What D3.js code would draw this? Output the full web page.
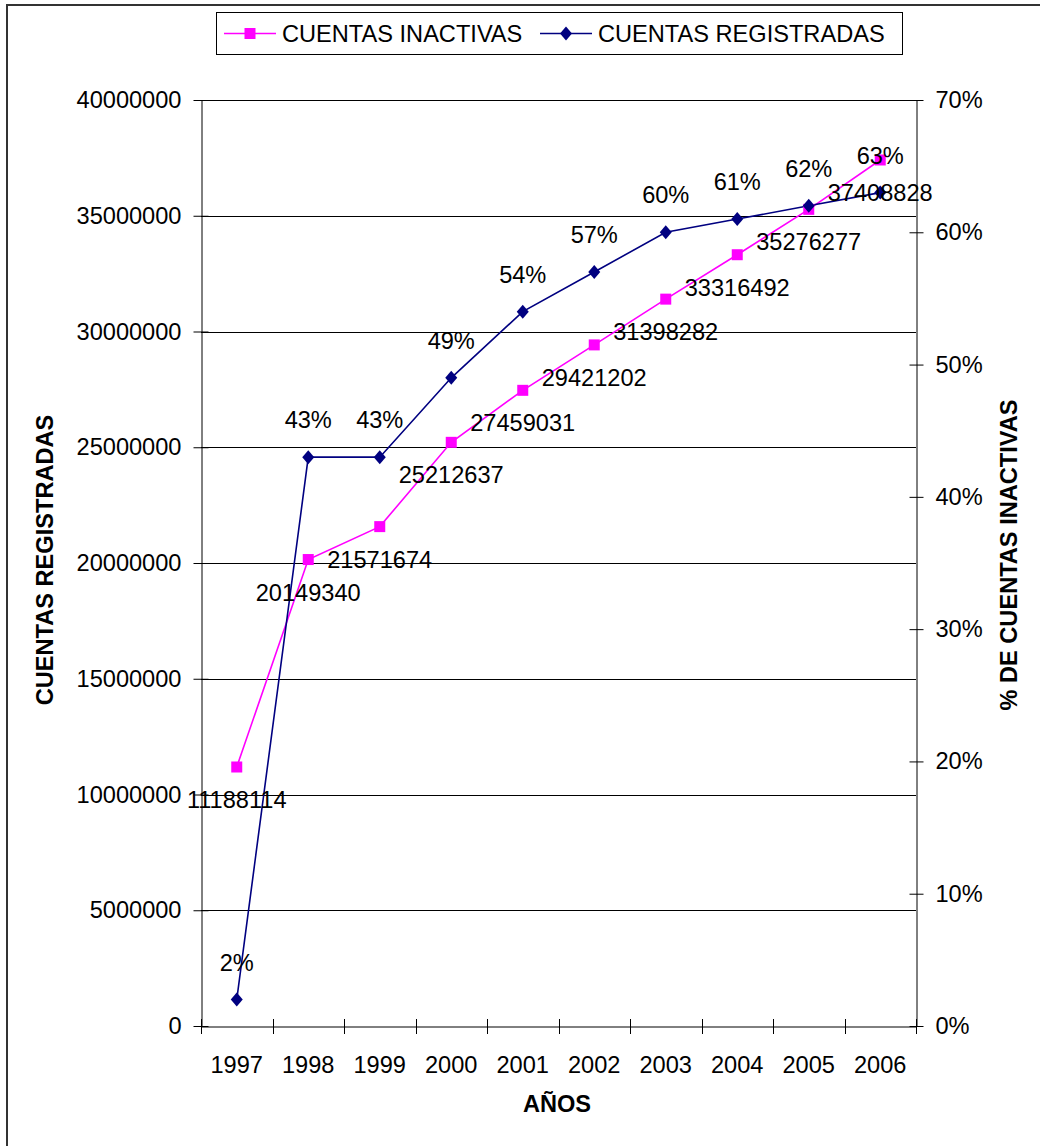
<!DOCTYPE html>
<html>
<head>
<meta charset="utf-8">
<script src="https://cdn.jsdelivr.net/npm/d3@7"></script>
<style>
  body { margin: 0; background: #ffffff; }
  text { font-family: "Liberation Sans", Arial, sans-serif; fill: #000000; }
</style>
</head>
<body>
<div id="chart"></div>
<script>

var years = ["1997", "1998", "1999", "2000", "2001", "2002", "2003", "2004", "2005", "2006"];
var cuentasInactivas = [11188114, 20149340, 21571674, 25212637, 27459031, 29421202, 31398282, 33316492, 35276277, 37408828];
var cuentasRegistradas = [0.02, 0.43, 0.43, 0.49, 0.54, 0.57, 0.60, 0.61, 0.62, 0.63];
var leftTicks = [0, 5000000, 10000000, 15000000, 20000000, 25000000, 30000000, 35000000, 40000000];
var rightTicks = [0, 0.1, 0.2, 0.3, 0.4, 0.5, 0.6, 0.7];
var seriesNames = ["CUENTAS INACTIVAS", "CUENTAS REGISTRADAS"];
var seriesColors = ["#ff00ff", "#000080"];

var width = 1040;
var height = 1146;
var plot = { left: 201, right: 916, top: 100, bottom: 1026 };
var fontSize = 23.6;

var svg = d3.select("#chart").append("svg").attr("width", width).attr("height", height);

// Outer chart border (only left and top edges show in the frame) :
svg.append("rect")
   .attr("x", 7).attr("y", 5)
   .attr("width", 1100).attr("height", 1200)
   .style("fill", "none")
   .style("stroke", "#333333")
   .style("stroke-width", "2px");

// Scales :
var x = d3.scaleBand().domain(years).range([plot.left, plot.right]).padding(0);
var yLeft = d3.scaleLinear().domain([0, 40000000]).range([plot.bottom, plot.top]);
var yRight = d3.scaleLinear().domain([0, 0.7]).range([plot.bottom, plot.top]);
var cx = function(d) { return x(d) + x.bandwidth() / 2; };

// Horizontal gridlines on the left axis ticks :
svg.append("g").selectAll("line")
   .data(leftTicks.slice(1))
   .enter().append("line")
   .attr("x1", plot.left).attr("x2", plot.right)
   .attr("y1", function(d) { return Math.round(yLeft(d)) + 0.5; })
   .attr("y2", function(d) { return Math.round(yLeft(d)) + 0.5; })
   .style("stroke", "#000000")
   .style("stroke-width", "1px");

// Axes (ticks cross the axis lines, Excel style) :
function styleAxis(g) {
  g.selectAll("path, line").style("stroke", "#000000").style("stroke-width", "1px");
  g.selectAll("text").style("font-size", fontSize + "px").style("font-family", "'Liberation Sans', Arial, sans-serif");
}

var leftAxis = svg.append("g")
   .attr("transform", "translate(" + (plot.left + 0.5) + ",0)")
   .call(d3.axisLeft(yLeft).tickValues(leftTicks).tickFormat(d3.format("d")).tickSizeInner(7).tickSizeOuter(0).tickPadding(13))
   .call(styleAxis);
leftAxis.selectAll(".tick line").attr("x2", 7).attr("x1", -8);

var rightAxis = svg.append("g")
   .attr("transform", "translate(" + (plot.right + 0.5) + ",0)")
   .call(d3.axisRight(yRight).tickValues(rightTicks).tickFormat(d3.format(".0%")).tickSizeInner(7).tickSizeOuter(0).tickPadding(12))
   .call(styleAxis);
rightAxis.selectAll(".tick line").attr("x1", -7).attr("x2", 7);

var bottomAxis = svg.append("g")
   .attr("transform", "translate(0," + (plot.bottom + 0.5) + ")")
   .call(d3.axisBottom(x).tickSize(0).tickPadding(30))
   .call(styleAxis);
bottomAxis.selectAll(".tick line").remove();

// Category separators on the bottom axis :
var boundaries = years.map(function(d) { return x(d); }).concat([plot.right]);
svg.append("g").selectAll("line")
   .data(boundaries)
   .enter().append("line")
   .attr("x1", function(d) { return Math.round(d) + 0.5; })
   .attr("x2", function(d) { return Math.round(d) + 0.5; })
   .attr("y1", plot.bottom - 7).attr("y2", plot.bottom + 8)
   .style("stroke", "#000000")
   .style("stroke-width", "1px");

// Series lines :
var inactData = years.map(function(d, i) { return { year: d, value: cuentasInactivas[i] }; });
var regData = years.map(function(d, i) { return { year: d, value: cuentasRegistradas[i] }; });

svg.append("path")
   .datum(inactData)
   .attr("d", d3.line().x(function(d) { return cx(d.year); }).y(function(d) { return yLeft(d.value); }))
   .style("fill", "none")
   .style("stroke", seriesColors[0])
   .style("stroke-width", "1.6px");

svg.append("path")
   .datum(regData)
   .attr("d", d3.line().x(function(d) { return cx(d.year); }).y(function(d) { return yRight(d.value); }))
   .style("fill", "none")
   .style("stroke", seriesColors[1])
   .style("stroke-width", "1.6px");

// Markers :
var diamond = "M0,-7L6,0L0,7L-6,0Z";

svg.append("g").selectAll("rect")
   .data(inactData)
   .enter().append("rect")
   .attr("x", function(d) { return cx(d.year) - 5.5; })
   .attr("y", function(d) { return yLeft(d.value) - 5.5; })
   .attr("width", 11).attr("height", 11)
   .style("fill", seriesColors[0]);

svg.append("g").selectAll("path")
   .data(regData)
   .enter().append("path")
   .attr("d", diamond)
   .attr("transform", function(d) { return "translate(" + cx(d.year) + "," + yRight(d.value) + ")"; })
   .style("fill", seriesColors[1]);

// Data labels : values below pink markers, percentages above blue markers
svg.append("g").selectAll("text")
   .data(inactData)
   .enter().append("text")
   .attr("x", function(d) { return cx(d.year); })
   .attr("y", function(d) { return yLeft(d.value) + 41; })
   .attr("text-anchor", "middle")
   .style("font-size", fontSize + "px")
   .text(function(d) { return d.value; });

svg.append("g").selectAll("text")
   .data(regData)
   .enter().append("text")
   .attr("x", function(d) { return cx(d.year); })
   .attr("y", function(d) { return yRight(d.value) - 29; })
   .attr("text-anchor", "middle")
   .style("font-size", fontSize + "px")
   .text(function(d) { return d3.format(".0%")(d.value); });

// Axis titles :
svg.append("text")
   .attr("transform", "translate(53,560) rotate(-90)")
   .attr("text-anchor", "middle")
   .style("font-size", fontSize + "px")
   .style("font-weight", "bold")
   .text("CUENTAS REGISTRADAS");

svg.append("text")
   .attr("transform", "translate(1017,555) rotate(-90)")
   .attr("text-anchor", "middle")
   .style("font-size", fontSize + "px")
   .style("font-weight", "bold")
   .text("% DE CUENTAS INACTIVAS");

svg.append("text")
   .attr("x", 557).attr("y", 1112)
   .attr("text-anchor", "middle")
   .style("font-size", fontSize + "px")
   .style("font-weight", "bold")
   .text("AÑOS");

// Legend :
var legend = svg.append("g");
legend.append("rect")
      .attr("x", 216.5).attr("y", 12.5)
      .attr("width", 686).attr("height", 42)
      .style("fill", "#ffffff")
      .style("stroke", "#000000")
      .style("stroke-width", "1px");

var legendX = [224, 540];
seriesNames.forEach(function(name, i) {
  var lx = legendX[i];
  legend.append("line")
        .attr("x1", lx).attr("x2", lx + 52)
        .attr("y1", 33.5).attr("y2", 33.5)
        .style("stroke", seriesColors[i])
        .style("stroke-width", "1.6px");
  if (i === 0) {
    legend.append("rect")
          .attr("x", lx + 26 - 5.5).attr("y", 33.5 - 5.5)
          .attr("width", 11).attr("height", 11)
          .style("fill", seriesColors[i]);
  } else {
    legend.append("path")
          .attr("d", diamond)
          .attr("transform", "translate(" + (lx + 26) + ",33.5)")
          .style("fill", seriesColors[i]);
  }
  legend.append("text")
        .attr("x", lx + 58).attr("y", 41.5)
        .style("font-size", fontSize + "px")
        .text(name);
});

</script>
</body>
</html>
